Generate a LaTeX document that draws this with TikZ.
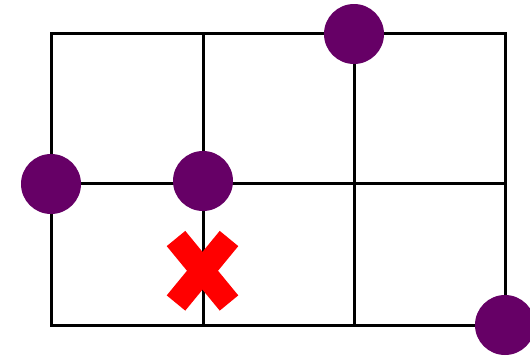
\documentclass[tikz,border=0pt]{standalone}
\usepackage{xcolor}
\usepackage{tikz}
\definecolor{dotfill}{HTML}{660066}
\definecolor{crossred}{HTML}{FF0000}

\begin{document}
\begin{tikzpicture}[x=0.5pt,y=-0.5pt,
  gridline/.style={draw=black,line width=1.5pt},
  dot/.style={circle,fill=dotfill,minimum size=30pt,inner sep=0pt},
  crossbar/.style={draw=crossred,line width=12pt,line cap=butt}
]
\useasboundingbox (0,0) rectangle (530,359);
% grid
\draw[gridline] (51,33) rectangle (505,325);
\foreach \gx in {203,354}
  \draw[gridline] (\gx,33) -- (\gx,325);
\draw[gridline] (51,183) -- (505,183);
% the cross
\coordinate (xa) at (176,238.5);
\coordinate (xb) at (229,303);
\coordinate (xc) at (229,238.5);
\coordinate (xd) at (176,303);
\draw[crossbar] (xa) -- (xb);
\draw[crossbar] (xc) -- (xd);
% dots
\node[dot] (top) at (354,34) {};
\node[dot] (left) at (51,184) {};
\node[dot] (mid) at (203,181) {};
\node[dot] (corner) at (505,325) {};
\end{tikzpicture}
\end{document}
